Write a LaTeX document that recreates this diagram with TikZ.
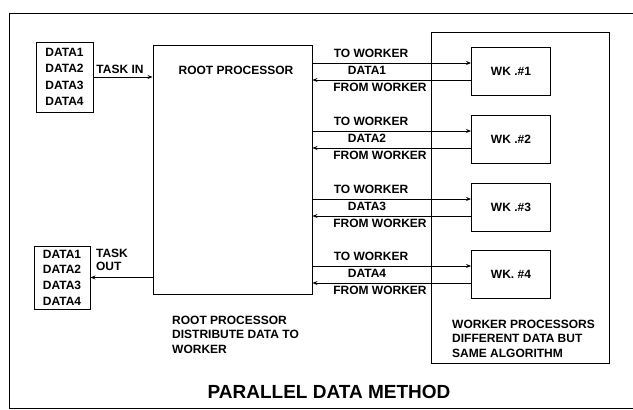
\documentclass[tikz,border=0pt]{standalone}
\usepackage{fontspec}
\setmainfont{Liberation Sans}
\usetikzlibrary{arrows.meta,positioning}

\begin{document}
\begin{tikzpicture}[x=1pt,y=-1pt,
    box/.style={draw,line width=0.9pt,inner sep=0pt},
    arr/.style={-{Stealth[length=5pt,width=4pt]},line width=0.9pt},
    lbl/.style={font=\fontsize{12}{14}\selectfont\bfseries,inner sep=0pt}]
    \useasboundingbox (0,0) rectangle (633,410);

    % Outer frame (right side runs off the page)
    \draw[line width=0.9pt] (633,13) -| (9,408) -- (633,408);

    % Data in / data out
    \node[box,lbl,minimum width=57,minimum height=70,align=left,
          font=\fontsize{12}{16.3}\selectfont\bfseries] (datain) at (64.5,77)
          {DATA1\\DATA2\\DATA3\\DATA4};
    \node[box,lbl,minimum width=56,minimum height=63,align=left,
          font=\fontsize{12}{15.7}\selectfont\bfseries] (dataout) at (62,277.5)
          {DATA1\\DATA2\\DATA3\\DATA4};

    % Root processor
    \node[box,minimum width=159,minimum height=249] (root) at (232.5,169.5) {};
    \node[lbl] (roottitle) at (236,70) {ROOT PROCESSOR};
    \node[lbl,anchor=north west,align=left,
          font=\fontsize{12}{14.5}\selectfont\bfseries] (rootnote) at (172,315.5)
          {ROOT PROCESSOR\\DISTRIBUTE DATA TO\\WORKER};

    % Task in / task out
    \draw[arr] (datain.east) -- (datain.east -| root.west);
    \node[lbl] (taskin) at (120,69) {TASK IN};
    \draw[arr] (dataout.east -| root.west) -- (dataout.east);
    \node[lbl,align=left,font=\fontsize{12}{13}\selectfont\bfseries] (taskout)
          at (112,259.5) {TASK\\OUT};

    % Worker processors
    \node[box,minimum width=178,minimum height=331] (workers) at (520,197.5) {};
    \node[lbl,anchor=north west,align=left,
          font=\fontsize{12}{14.5}\selectfont\bfseries] (workernote) at (452,319.5)
          {WORKER PROCESSORS\\DIFFERENT DATA BUT\\SAME ALGORITHM};

    \foreach \i/\y/\name in {1/71/{WK .\#1}, 2/139/{WK .\#2}, 3/207/{WK .\#3}, 4/274/{WK. \#4}} {
        \node[box,lbl,minimum width=79,minimum height=48] (wk\i) at (511,\y) {\name};
        \draw[arr] ([yshift=8pt]wk\i.west -| root.east) -- ([yshift=8pt]wk\i.west);
        \draw[arr] ([yshift=-9pt]wk\i.west) -- ([yshift=-9pt]wk\i.west -| root.east);
        \node[lbl] (to\i) at (371,\y-18) {TO WORKER};
        \node[lbl] (data\i) at (367,\y-1) {DATA\i};
        \node[lbl] (from\i) at (380,\y+16) {FROM WORKER};
    }

    % Title
    \node[font=\fontsize{19}{21}\selectfont\bfseries] (title) at (329,392)
          {PARALLEL DATA METHOD};
\end{tikzpicture}
\end{document}
